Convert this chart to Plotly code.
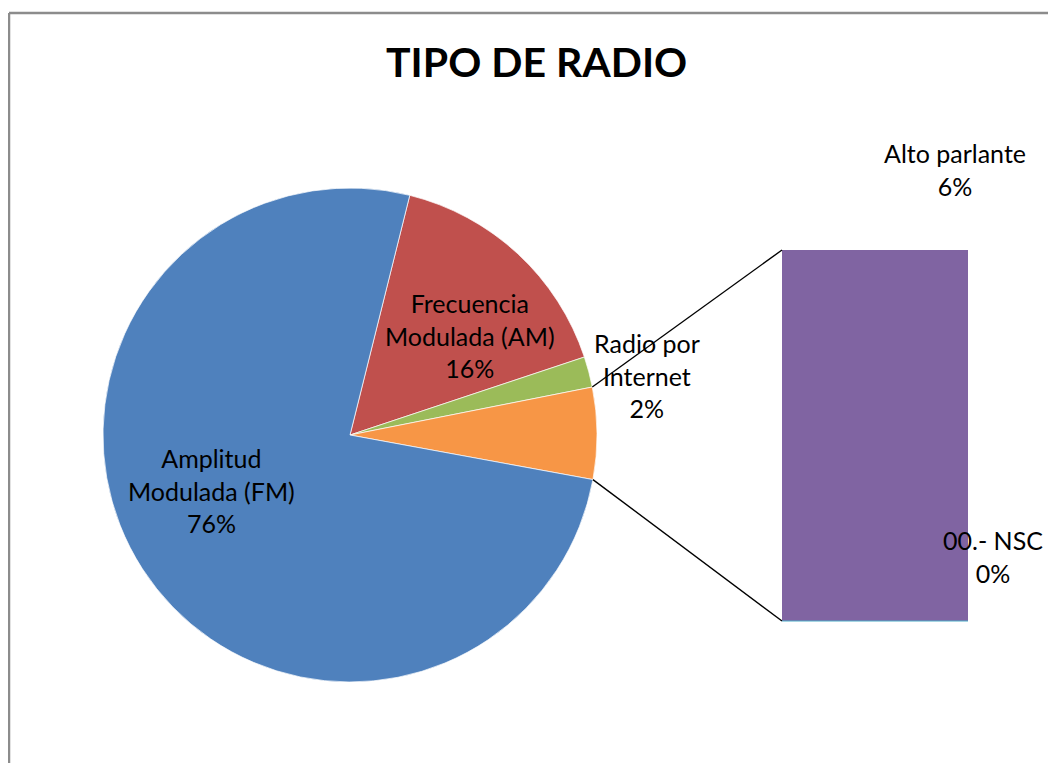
import math
import plotly.graph_objects as go

# ---------------- data ----------------
pie_labels = ["Frecuencia Modulada (AM)", "Radio por Internet", "Otros", "Amplitud Modulada (FM)"]
pie_values = [16, 2, 6, 76]
pie_colors = ["#C0504D", "#9BBB59", "#F79646", "#4F81BD"]

bar_labels = ["00.- NSC", "Alto parlante"]
bar_values = [0, 6]
bar_colors = ["#4BACC6", "#8064A2"]

title_text = "TIPO DE RADIO"

# ---------------- layout constants (screen pixels) ----------------
W, H = 1056, 771
OX, OY = 8, 8                      # page body margin offset
FW, FH = W - 2 * OX, H - 2 * OY    # figure size so the page does not overflow
FONT = "Lato"
cx, cy, R = 350, 435, 247          # pie centre / radius
bar_x0, bar_x1 = 782, 968          # bar horizontal extent
bar_top, bar_bot = 250, 621        # bar vertical extent
rotation = 14                      # degrees clockwise from 12 o'clock

def px(x):
    return (x - OX) / FW

def py(y):
    return 1 - (y - OY) / FH

fig = go.Figure()

fig.add_trace(go.Pie(
    labels=pie_labels, values=pie_values, sort=False, direction="clockwise",
    rotation=rotation, marker=dict(colors=pie_colors, line=dict(color="white", width=0.7)),
    textinfo="none", hoverinfo="label+percent", showlegend=False,
    domain=dict(x=[px(cx - R), px(cx + R)], y=[py(cy + R), py(cy - R)]),
))

for lab, val, col in zip(bar_labels, bar_values, bar_colors):
    fig.add_trace(go.Bar(x=[0], y=[val], name=lab, marker=dict(color=col, line=dict(width=0)),
                         width=1, showlegend=False, xaxis="x", yaxis="y"))

total = sum(pie_values)
bar_total = sum(bar_values)

fig.update_layout(
    width=FW, height=FH, margin=dict(l=0, r=0, t=0, b=0),
    paper_bgcolor="white", plot_bgcolor="rgba(0,0,0,0)",
    barmode="stack",
    xaxis=dict(domain=[px(bar_x0), px(bar_x1)], range=[-0.5, 0.5], visible=False, fixedrange=True),
    yaxis=dict(domain=[py(bar_bot), py(bar_top)], range=[0, bar_total], visible=False, fixedrange=True),
    font=dict(family=FONT, color="black"),
)

# connector lines from the "Otros" slice edges to the bar corners
idx = pie_labels.index("Otros")
start = rotation + 360 * sum(pie_values[:idx]) / total
end = start + 360 * pie_values[idx] / total
def edge(angle_deg):
    a = math.radians(angle_deg)
    return cx + R * math.sin(a), cy - R * math.cos(a)
sx, sy = edge(start)
ex, ey = edge(end)
for (x0, y0), (x1, y1) in [((sx, sy), (bar_x0, bar_top)), ((ex, ey), (bar_x0, bar_bot))]:
    fig.add_shape(type="line", xref="paper", yref="paper",
                  x0=px(x0), y0=py(y0), x1=px(x1), y1=py(y1),
                  line=dict(color="black", width=1.4))

# thin line marking the zero-valued NSC segment at bar base
fig.add_shape(type="line", xref="paper", yref="paper",
              x0=px(bar_x0), y0=py(bar_bot), x1=px(bar_x1), y1=py(bar_bot),
              line=dict(color=bar_colors[0], width=1))

# chart border (left and top edges visible)
border = dict(color="#8C8C8C", width=2.5)
fig.add_shape(type="line", xref="paper", yref="paper",
              x0=px(9), y0=py(13), x1=1, y1=py(13), line=border)
fig.add_shape(type="line", xref="paper", yref="paper",
              x0=px(9), y0=py(13), x1=px(9), y1=0, line=border)

def pct(v, t):
    return f"{round(100 * v / t)}%"

label_font = dict(family=FONT, size=25, color="black")
labels_pos = {
    "Amplitud Modulada (FM)": ("Amplitud<br>Modulada (FM)", 211, 490),
    "Frecuencia Modulada (AM)": ("Frecuencia<br>Modulada (AM)", 470, 335),
    "Radio por Internet": ("Radio por<br>Internet", 647, 375),
}
for name, (txt, x, y) in labels_pos.items():
    v = pie_values[pie_labels.index(name)]
    fig.add_annotation(text=f"{txt}<br>{pct(v, total)}", x=px(x), y=py(y), xref="paper", yref="paper",
                       xanchor="center", yanchor="middle",
                       showarrow=False, font=label_font, align="center")

bar_pos = {"Alto parlante": (955, 170), "00.- NSC": (993, 556)}
for name, (x, y) in bar_pos.items():
    v = bar_values[bar_labels.index(name)]
    fig.add_annotation(text=f"{name}<br>{pct(v, total)}", x=px(x), y=py(y), xref="paper", yref="paper",
                       xanchor="center", yanchor="middle",
                       showarrow=False, font=label_font, align="center")

fig.add_annotation(text=f"<b>{title_text}</b>", x=px(536), y=py(61), xref="paper", yref="paper",
                   xanchor="center", yanchor="middle",
                   showarrow=False, font=dict(family=FONT, size=41, color="black"))

fig.write_html("out.html")
